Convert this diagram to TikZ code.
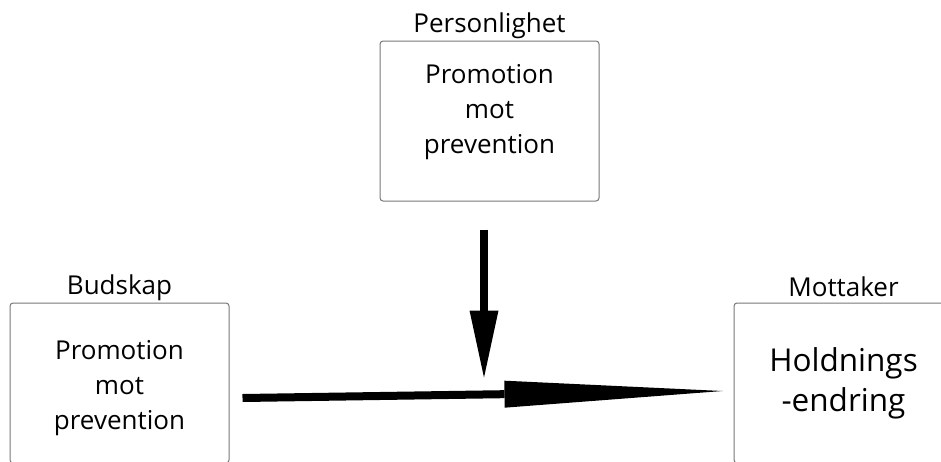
\documentclass[tikz,border=0pt]{standalone}
\usepackage{fontspec}
\setmainfont{Open Sans}
\usepackage{tikz}
\usetikzlibrary{arrows.meta,positioning,calc}
\usepackage{xcolor}
\definecolor{boxgray}{RGB}{120,120,120}
\tikzset{
    box/.style={rectangle, rounded corners=3pt, draw=boxgray, line width=1pt, minimum width=219pt, minimum height=160pt, align=center, font=\fontsize{26}{35}\selectfont},
    bigbox/.style={box, font=\fontsize{31.5}{40}\selectfont},
    heading/.style={font=\fontsize{26}{30}\selectfont, inner sep=2pt},
    downarrow/.style={line width=8pt, -{Triangle[length=67pt, width=29pt, line width=0pt]}},
    rightarrow/.style={line width=8pt, -{Triangle[length=218pt, width=27pt, line width=0pt]}},
}
\begin{document}
\begin{tikzpicture}[x=1pt, y=-1pt]
    \useasboundingbox (0,0) rectangle (941,461);
    \clip (0,0) rectangle (941,461);

    % Boxes
    \node[box, text depth=24pt, label={[heading]above:Personlighet}] (person) at (489.5,121) {Promotion\\mot\\prevention};
    \node[box, text height=99pt, label={[heading]above:Budskap}] (budskap) at (119.5,383) {Promotion\\mot\\prevention};
    \node[bigbox, label={[heading, yshift=4pt]above:Mottaker}] (mottaker) at (843.5,383) {Holdnings\\-endring};

    % Arrows
    \coordinate (join) at ($(person.south)+(-5.5,176)$);
    \draw[downarrow] ($(person.south)+(-5.5,28)$) -- (join);
    \draw[rightarrow] ($(budskap.east)+(13,15)$) -- ($(mottaker.west)+(-11,8)$);
\end{tikzpicture}
\end{document}
